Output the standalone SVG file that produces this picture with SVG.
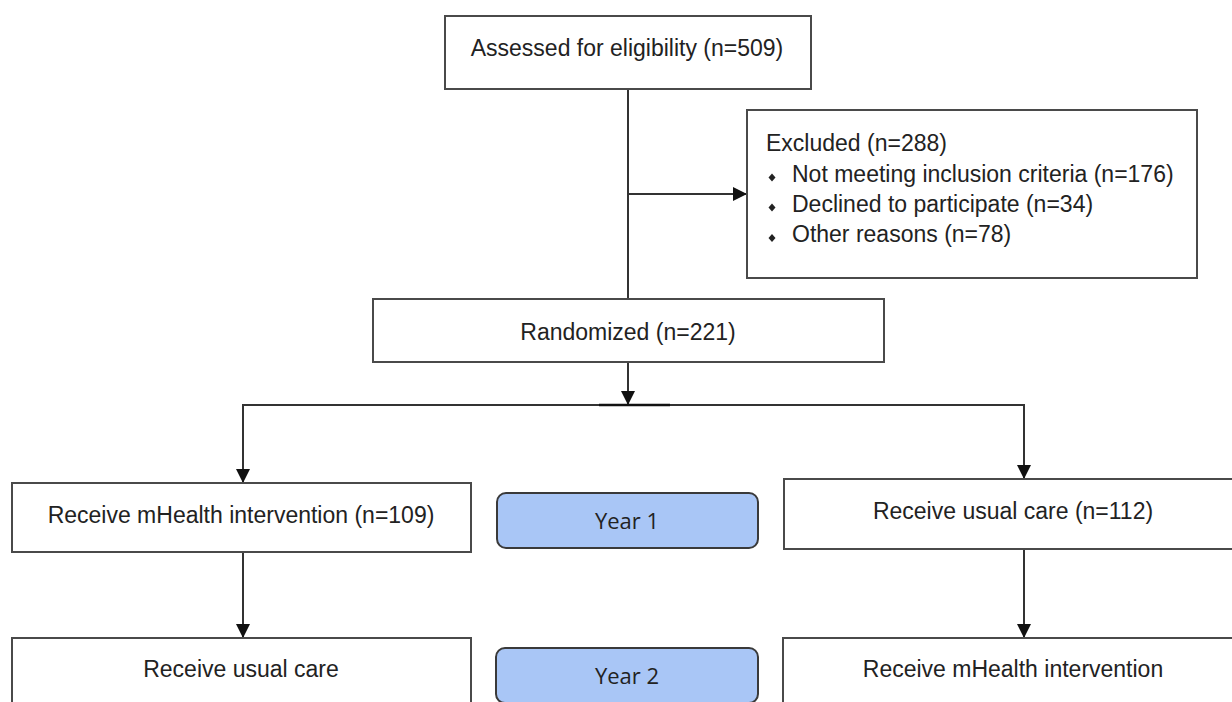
<svg xmlns="http://www.w3.org/2000/svg" width="1232" height="702" viewBox="0 0 1232 702">
<defs>
<style>
.box{fill:#fff;stroke:#4a4a4a;stroke-width:2}
.yr{fill:#a9c6f6;stroke:#3a3a3a;stroke-width:2}
.t{font-family:"Liberation Sans",Arial,sans-serif;font-size:23px;fill:#222}
.ty{font-family:"Open Sans","Liberation Sans",sans-serif;font-size:22px;fill:#222;text-anchor:middle}
.c{text-anchor:middle}
.ln{fill:none;stroke:#333;stroke-width:2}
</style>
<marker id="ah" markerUnits="userSpaceOnUse" markerWidth="14" markerHeight="14" viewBox="0 0 14 14" refX="14" refY="7" orient="auto">
<path d="M0,0 L14,7 L0,14 z" fill="#111"/>
</marker>
</defs>
<rect width="1232" height="702" fill="#fff"/>
<g id="connectors">
<path class="ln" d="M628,89 V299"/>
<path class="ln" d="M628,194 H747" marker-end="url(#ah)"/>
<path class="ln" d="M628,362 V405" marker-end="url(#ah)"/>
<path class="ln" d="M628,405 H243 V483" marker-end="url(#ah)"/>
<path class="ln" d="M628,405 H1024 V479" marker-end="url(#ah)"/>
<path d="M599,405 H670" stroke="#111" stroke-width="2.5"/>
<path class="ln" d="M243,552 V638" marker-end="url(#ah)"/>
<path class="ln" d="M1024,549 V638" marker-end="url(#ah)"/>
</g>
<g id="assessed">
<rect class="box" x="445" y="16" width="366" height="73"/>
<text class="t c" x="627" y="56">Assessed for eligibility (n=509)</text>
</g>
<g id="excluded">
<rect class="box" x="747" y="110" width="450" height="168"/>
<text class="t" x="766" y="151">Excluded (n=288)</text>
<path d="M772,173.5 l3.5,4 l-3.5,4 l-3.5,-4 z M772,203.5 l3.5,4 l-3.5,4 l-3.5,-4 z M772,234 l3.5,4 l-3.5,4 l-3.5,-4 z" fill="#222"/>
<text class="t" x="792" y="182">Not meeting inclusion criteria (n=176)</text>
<text class="t" x="792" y="212">Declined to participate (n=34)</text>
<text class="t" x="792" y="242">Other reasons (n=78)</text>
</g>
<g id="randomized">
<rect class="box" x="373" y="299" width="511" height="63"/>
<text class="t c" x="628" y="340">Randomized (n=221)</text>
</g>
<g id="left1">
<rect class="box" x="12" y="483" width="459" height="69"/>
<text class="t c" x="241" y="523">Receive mHealth intervention (n=109)</text>
</g>
<g id="year1">
<rect class="yr" x="497" y="493" width="261" height="55" rx="9"/>
<text class="ty" x="627" y="529">Year 1</text>
</g>
<g id="right1">
<rect class="box" x="784" y="479" width="480" height="70"/>
<text class="t c" x="1013" y="519">Receive usual care (n=112)</text>
</g>
<g id="left2">
<rect class="box" x="12" y="638" width="459" height="80"/>
<text class="t c" x="241" y="677">Receive usual care</text>
</g>
<g id="year2">
<rect class="yr" x="496" y="648" width="262" height="55" rx="9"/>
<text class="ty" x="627" y="684">Year 2</text>
</g>
<g id="right2">
<rect class="box" x="783" y="638" width="480" height="80"/>
<text class="t c" x="1013" y="677">Receive mHealth intervention</text>
</g>
</svg>
